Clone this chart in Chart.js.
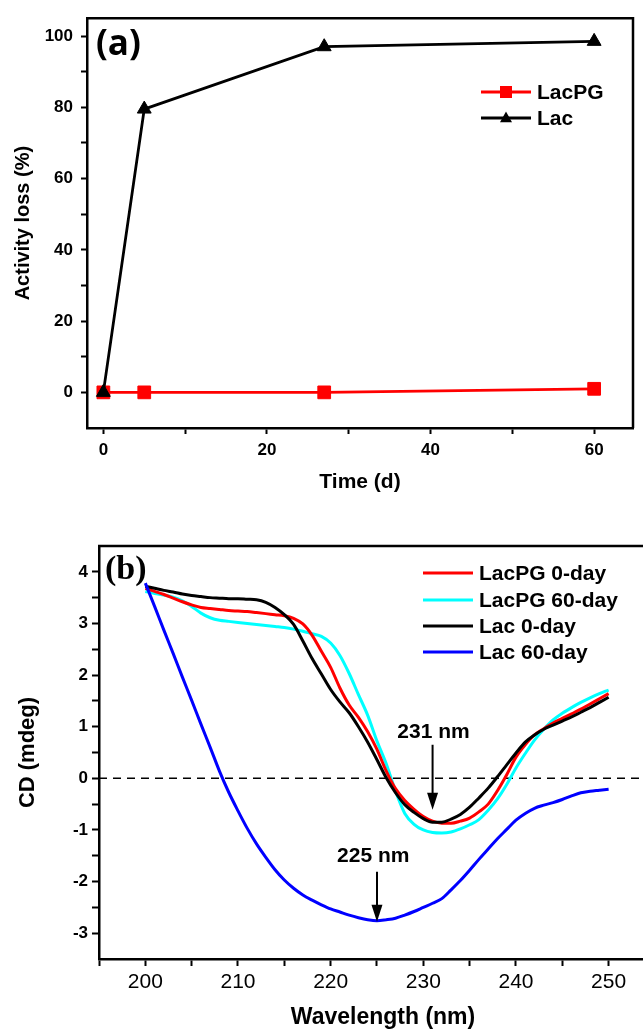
<!DOCTYPE html>
<html>
<head>
<meta charset="utf-8">
<title>Activity loss and CD spectra</title>
<script src="https://cdn.jsdelivr.net/npm/chart.js@4.4.1/dist/chart.umd.min.js"></script>
<style>
  html, body { margin: 0; padding: 0; background: #fff; overflow: hidden; width: 643px; height: 1029px; }
  .panel { position: absolute; left: 0; }
  #panelA { top: 0; width: 643px; height: 500px; }
  #panelB { top: 515px; width: 667px; height: 514px; }
</style>
</head>
<body>
<div class="panel" id="panelA"><canvas id="chartA" width="643" height="500"></canvas></div>
<div class="panel" id="panelB"><canvas id="chartB" width="667" height="514"></canvas></div>
<script>
// (a) activity loss during storage
const timeDays = [0, 5, 27, 60];
const lacPGLoss = [0, 0, 0, 1];
const lacLoss = [0, 79.5, 97, 98.5];
const timeTicks = [0, 20, 40, 60];
const timeMinorTicks = [10, 30, 50];
const lossTicks = [0, 20, 40, 60, 80, 100];
const lossMinorTicks = [10, 30, 50, 70, 90];

// (b) CD spectra
const wavelengths = [200, 201, 202, 203, 204, 205, 206, 207, 208, 209,
  210, 211, 212, 213, 214, 215, 216, 217, 218, 219,
  220, 221, 222, 223, 224, 225, 226, 227, 228, 229,
  230, 231, 232, 233, 234, 235, 236, 237, 238, 239,
  240, 241, 242, 243, 244, 245, 246, 247, 248, 249, 250];
const lacPG0 = [3.68, 3.62, 3.56, 3.49, 3.42, 3.36, 3.31, 3.29, 3.27, 3.25,
  3.24, 3.23, 3.21, 3.19, 3.17, 3.15, 3.10, 2.99, 2.77, 2.46,
  2.15, 1.75, 1.42, 1.18, 0.90, 0.56, 0.14, -0.20, -0.43, -0.60,
  -0.74, -0.83, -0.87, -0.87, -0.83, -0.77, -0.65, -0.50, -0.24, 0.07,
  0.41, 0.65, 0.84, 0.96, 1.07, 1.16, 1.25, 1.34, 1.44, 1.54, 1.64];
const lacPG60 = [3.62, 3.58, 3.55, 3.51, 3.44, 3.33, 3.20, 3.11, 3.06, 3.04,
  3.02, 3.00, 2.98, 2.96, 2.94, 2.92, 2.89, 2.85, 2.80, 2.75,
  2.62, 2.38, 2.03, 1.62, 1.22, 0.72, 0.28, -0.25, -0.68, -0.89,
  -1.00, -1.05, -1.06, -1.04, -0.98, -0.90, -0.80, -0.62, -0.40, -0.12,
  0.20, 0.48, 0.74, 0.95, 1.13, 1.26, 1.37, 1.47, 1.56, 1.64, 1.71];
const lac0 = [3.72, 3.68, 3.64, 3.61, 3.57, 3.54, 3.52, 3.50, 3.49, 3.48,
  3.48, 3.47, 3.46, 3.41, 3.31, 3.17, 2.98, 2.66, 2.32, 2.02,
  1.72, 1.48, 1.27, 1.00, 0.70, 0.36, 0.01, -0.28, -0.51, -0.66,
  -0.78, -0.85, -0.85, -0.79, -0.70, -0.56, -0.38, -0.19, 0.03, 0.26,
  0.49, 0.70, 0.84, 0.95, 1.03, 1.11, 1.19, 1.28, 1.37, 1.47, 1.57];
const lac60 = [3.78, 3.33, 2.87, 2.42, 1.96, 1.51, 1.05, 0.60, 0.14, -0.27,
  -0.63, -0.97, -1.27, -1.53, -1.77, -1.97, -2.13, -2.26, -2.36, -2.45,
  -2.53, -2.59, -2.65, -2.70, -2.74, -2.76, -2.74, -2.71, -2.65, -2.58,
  -2.50, -2.42, -2.33, -2.16, -1.98, -1.78, -1.57, -1.37, -1.17, -0.99,
  -0.81, -0.68, -0.58, -0.52, -0.47, -0.41, -0.34, -0.28, -0.25, -0.23, -0.21];
const wavelengthTicks = [200, 210, 220, 230, 240, 250];
const wavelengthMinorTicks = [195, 205, 215, 225, 235, 245, 255];
const cdTicks = [-3, -2, -1, 0, 1, 2, 3, 4];
const cdMinorTicks = [-2.5, -1.5, -0.5, 0.5, 1.5, 2.5, 3.5];

// arrows marking the minima
const cdNotes = [
  { text: '231 nm', x: 231, textX: 231.1, textY: 0.89, from: 0.65, to: -0.61 },
  { text: '225 nm', x: 225, textX: 224.6, textY: -1.51, from: -1.81, to: -2.78 }
];

const FONT = '"Liberation Sans", Arial, sans-serif';

function toPoints(xs, ys) {
  return xs.map((x, i) => ({ x: x, y: ys[i] }));
}

function allTicks(major, minor) {
  return major.concat(minor).sort((a, b) => a - b);
}

function axisLines(tickLen) {
  return {
    grid: { display: true, drawOnChartArea: false, drawTicks: true, tickLength: tickLen, tickWidth: 2, tickColor: '#000' },
    border: { display: true, color: '#000', width: 2.5 }
  };
}

// closes the frame on the top (and right) side
function framePlugin(withRight) {
  return {
    id: 'frame',
    afterDatasetsDraw(chart) {
      const a = chart.chartArea, ctx = chart.ctx;
      ctx.save();
      ctx.strokeStyle = '#000';
      ctx.lineWidth = 2.5;
      ctx.beginPath();
      ctx.moveTo(a.left - 1, a.top);
      ctx.lineTo(a.right, a.top);
      if (withRight) ctx.lineTo(a.right, a.bottom);
      ctx.stroke();
      ctx.restore();
    }
  };
}

function panelLabel(text, font, x, y) {
  return {
    id: 'panelLabel',
    afterDraw(chart) {
      const ctx = chart.ctx;
      ctx.save();
      ctx.fillStyle = '#000';
      ctx.font = font;
      ctx.textBaseline = 'alphabetic';
      ctx.fillText(text, x, y);
      ctx.restore();
    }
  };
}

function drawMarker(ctx, style, x, y, r) {
  ctx.beginPath();
  if (style === 'rect') {
    ctx.rect(x - r, y - r, 2 * r, 2 * r);
  } else {
    ctx.moveTo(x, y - r * 1.1);
    ctx.lineTo(x + r, y + r * 0.7);
    ctx.lineTo(x - r, y + r * 0.7);
    ctx.closePath();
  }
  ctx.fill();
}

const legendA = {
  id: 'legendA',
  afterDraw(chart) {
    const ctx = chart.ctx;
    chart.data.datasets.forEach((ds, i) => {
      const y = 92 + i * 26;
      ctx.save();
      ctx.strokeStyle = ds.borderColor;
      ctx.fillStyle = ds.borderColor;
      ctx.lineWidth = 2.8;
      ctx.beginPath();
      ctx.moveTo(481, y);
      ctx.lineTo(531, y);
      ctx.stroke();
      drawMarker(ctx, ds.pointStyle, 506, y, 6);
      ctx.fillStyle = '#000';
      ctx.font = 'bold 21px ' + FONT;
      ctx.textBaseline = 'middle';
      ctx.fillText(ds.label, 537, y + 1);
      ctx.restore();
    });
  }
};

const legendB = {
  id: 'legendB',
  afterDraw(chart) {
    const ctx = chart.ctx;
    const rowsY = [58, 85, 111, 137];
    chart.data.datasets.forEach((ds, i) => {
      const y = rowsY[i];
      ctx.save();
      ctx.strokeStyle = ds.borderColor;
      ctx.lineWidth = 3;
      ctx.beginPath();
      ctx.moveTo(423, y);
      ctx.lineTo(473, y);
      ctx.stroke();
      ctx.fillStyle = '#000';
      ctx.font = 'bold 21px ' + FONT;
      ctx.textBaseline = 'middle';
      ctx.fillText(ds.label, 479, y + 1);
      ctx.restore();
    });
  }
};

const zeroLine = {
  id: 'zeroLine',
  beforeDatasetsDraw(chart) {
    const ctx = chart.ctx, a = chart.chartArea;
    const y = chart.scales.y.getPixelForValue(0);
    ctx.save();
    ctx.strokeStyle = '#000';
    ctx.lineWidth = 1.5;
    ctx.setLineDash([8, 6]);
    ctx.beginPath();
    ctx.moveTo(a.left, y);
    ctx.lineTo(a.right, y);
    ctx.stroke();
    ctx.restore();
  }
};

const arrowNotes = {
  id: 'arrowNotes',
  afterDatasetsDraw(chart) {
    const ctx = chart.ctx, xs = chart.scales.x, ys = chart.scales.y;
    ctx.save();
    ctx.strokeStyle = '#000';
    ctx.fillStyle = '#000';
    cdNotes.forEach(n => {
      const x = xs.getPixelForValue(n.x);
      const y0 = ys.getPixelForValue(n.from);
      const y1 = ys.getPixelForValue(n.to);
      ctx.lineWidth = 2;
      ctx.beginPath();
      ctx.moveTo(x, y0);
      ctx.lineTo(x, y1 - 14);
      ctx.stroke();
      ctx.beginPath();
      ctx.moveTo(x - 5.5, y1 - 17);
      ctx.lineTo(x + 5.5, y1 - 17);
      ctx.lineTo(x, y1);
      ctx.closePath();
      ctx.fill();
      ctx.font = 'bold 21px ' + FONT;
      ctx.textAlign = 'center';
      ctx.textBaseline = 'middle';
      ctx.fillText(n.text, xs.getPixelForValue(n.textX), ys.getPixelForValue(n.textY));
    });
    ctx.restore();
  }
};

new Chart(document.getElementById('chartA'), {
  type: 'line',
  data: {
    datasets: [
      {
        label: 'LacPG', data: toPoints(timeDays, lacPGLoss),
        borderColor: '#ff0000', backgroundColor: '#ff0000', borderWidth: 2.8,
        pointStyle: 'rect', pointRadius: 9, pointBorderWidth: 1, order: 2
      },
      {
        label: 'Lac', data: toPoints(timeDays, lacLoss),
        borderColor: '#000000', backgroundColor: '#000000', borderWidth: 2.8,
        pointStyle: 'triangle', pointRadius: 8, pointBorderWidth: 1, order: 1
      }
    ]
  },
  options: {
    responsive: false,
    animation: false,
    events: [],
    layout: { padding: { top: 16, right: 2, left: 0, bottom: 0 } },
    plugins: { legend: { display: false }, tooltip: { enabled: false } },
    scales: {
      x: Object.assign({
        type: 'linear', min: -2, max: 64.75,
        afterFit: s => { s.height = 72; },
        afterBuildTicks: s => { s.ticks = allTicks(timeTicks, timeMinorTicks).map(v => ({ value: v })); },
        ticks: {
          autoSkip: false, maxRotation: 0, padding: 6, color: '#000',
          font: { family: FONT, size: 17, weight: 'bold' },
          callback: v => timeTicks.includes(v) ? String(v) : ''
        },
        title: {
          display: true, text: 'Time (d)', color: '#000',
          font: { family: FONT, size: 21, weight: 'bold', lineHeight: 1.2 },
          padding: { top: 0, bottom: 5 }
        }
      }, axisLines(6)),
      y: Object.assign({
        type: 'linear', min: -10, max: 105,
        afterFit: s => { s.width = 87; },
        afterBuildTicks: s => { s.ticks = allTicks(lossTicks, lossMinorTicks).map(v => ({ value: v })); },
        ticks: {
          autoSkip: false, padding: 8, color: '#000',
          font: { family: FONT, size: 17, weight: 'bold' },
          callback: v => lossTicks.includes(v) ? String(v) : ''
        },
        title: {
          display: true, text: 'Activity loss (%)', color: '#000',
          font: { family: FONT, size: 20, weight: 'bold', lineHeight: 1.2 },
          padding: { top: 11, bottom: 0 }
        }
      }, axisLines(6))
    }
  },
  plugins: [framePlugin(true), legendA, panelLabel('(a)', 'bold 35px "Open Sans", ' + FONT, 96, 55)]
});

new Chart(document.getElementById('chartB'), {
  type: 'line',
  data: {
    datasets: [
      { label: 'LacPG 0-day', data: toPoints(wavelengths, lacPG0), borderColor: '#ff0000', order: 3 },
      { label: 'LacPG 60-day', data: toPoints(wavelengths, lacPG60), borderColor: '#00ffff', order: 4 },
      { label: 'Lac 0-day', data: toPoints(wavelengths, lac0), borderColor: '#000000', order: 2 },
      { label: 'Lac 60-day', data: toPoints(wavelengths, lac60), borderColor: '#0000ff', order: 1 }
    ]
  },
  options: {
    responsive: false,
    animation: false,
    events: [],
    layout: { padding: { top: 31, right: 0, left: 0, bottom: 0 } },
    elements: {
      line: { borderWidth: 3, cubicInterpolationMode: 'monotone', fill: false },
      point: { radius: 0 }
    },
    plugins: { legend: { display: false }, tooltip: { enabled: false } },
    scales: {
      x: Object.assign({
        type: 'linear', min: 195, max: 256.3,
        afterFit: s => { s.height = 70; },
        afterBuildTicks: s => { s.ticks = allTicks(wavelengthTicks, wavelengthMinorTicks).map(v => ({ value: v })); },
        ticks: {
          autoSkip: false, maxRotation: 0, padding: 4, color: '#000',
          font: { family: FONT, size: 21 },
          callback: v => wavelengthTicks.includes(v) ? String(v) : ''
        },
        title: {
          display: true, text: 'Wavelength (nm)', color: '#000',
          font: { family: FONT, size: 23, weight: 'bold', lineHeight: 1.0 },
          padding: { top: 0, bottom: 0 }
        }
      }, axisLines(7)),
      y: Object.assign({
        type: 'linear', min: -3.5, max: 4.5,
        afterFit: s => { s.width = 99; },
        afterBuildTicks: s => { s.ticks = allTicks(cdTicks, cdMinorTicks).map(v => ({ value: v })); },
        ticks: {
          autoSkip: false, padding: 4, color: '#000',
          font: { family: FONT, size: 17, weight: 'bold' },
          callback: v => cdTicks.includes(v) ? String(v) : ''
        },
        title: {
          display: true, text: 'CD (mdeg)', color: '#000',
          font: { family: FONT, size: 22, weight: 'bold', lineHeight: 1.2 },
          padding: { top: 15, bottom: 0 }
        }
      }, axisLines(7))
    }
  },
  plugins: [framePlugin(false), zeroLine, arrowNotes, legendB, panelLabel('(b)', 'bold 34px "Liberation Serif", serif', 105, 64)]
});
</script>
</body>
</html>
